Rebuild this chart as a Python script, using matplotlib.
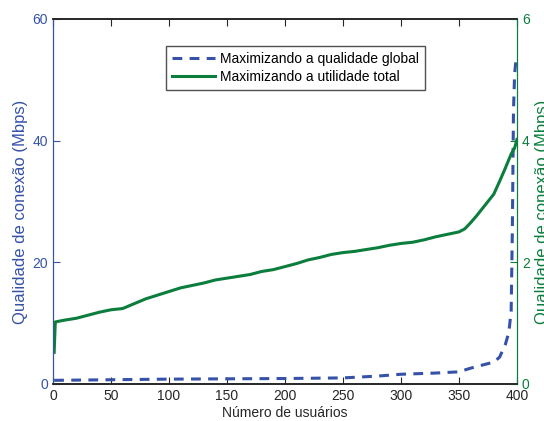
import matplotlib.pyplot as plt

plt.rcParams['font.family'] = ['Liberation Sans', 'DejaVu Sans']

# Sorted per-user connection quality, read at breakpoints along the user index
users_global = [1, 50, 100, 150, 200, 250, 280, 300, 330, 350, 360, 370, 380, 385,
                390, 393, 395, 396, 397, 398, 399, 400]
quality_global = [0.6, 0.7, 0.8, 0.85, 0.9, 1.0, 1.3, 1.6, 1.8, 2.0, 2.6, 3.1, 3.6, 4.4,
                  6.5, 8.5, 12.0, 25.0, 45.0, 51.0, 53.0, 54.0]

users_total = [1, 2, 10, 20, 30, 40, 50, 60, 70, 80, 90, 100, 110, 120, 130, 140, 150,
               160, 170, 180, 190, 200, 210, 220, 230, 240, 250, 260, 270, 280, 290, 300,
               310, 320, 330, 340, 350, 355, 360, 365, 370, 375, 380, 385, 390, 395, 398, 400]
quality_total = [0.52, 1.02, 1.05, 1.08, 1.13, 1.18, 1.22, 1.24, 1.32, 1.40, 1.46, 1.52,
                 1.58, 1.62, 1.66, 1.71, 1.74, 1.77, 1.80, 1.85, 1.88, 1.93, 1.98, 2.04,
                 2.08, 2.13, 2.16, 2.18, 2.21, 2.24, 2.28, 2.31, 2.33, 2.37, 2.42, 2.46,
                 2.50, 2.55, 2.65, 2.76, 2.88, 3.00, 3.12, 3.33, 3.55, 3.78, 3.88, 4.02]

x_ticks = [0, 50, 100, 150, 200, 250, 300, 350, 400]
left_ticks = [0, 20, 40, 60]
right_ticks = [0, 2, 4, 6]

blue = '#3552a8'
green = '#0b7d3c'
dark = '#262626'

fig = plt.figure(figsize=(5.44, 4.21), dpi=100)
ax1 = fig.add_axes([0.0974, 0.0879, 0.8529, 0.867])
ax2 = ax1.twinx()

l1, = ax1.plot(users_global, quality_global, color=blue, lw=2.2, ls='--', dashes=(3.2, 2.4),
               label='Maximizando a qualidade global')
l2, = ax2.plot(users_total, quality_total, color=green, lw=2.2,
               label='Maximizando a utilidade total')

ax1.set_xlim(0, 400)
ax1.set_ylim(0, 60)
ax2.set_ylim(0, 6)
ax1.set_xticks(x_ticks)
ax1.set_yticks(left_ticks)
ax2.set_yticks(right_ticks)

ax1.tick_params(axis='x', direction='in', top=True, length=5, labelsize=10, colors=dark)
ax1.tick_params(axis='y', direction='in', length=5, labelsize=10, colors=blue)
ax2.tick_params(axis='y', direction='in', length=5, labelsize=10, colors=green)

for ax in (ax1, ax2):
    ax.spines['top'].set_color(dark)
    ax.spines['bottom'].set_color(dark)
    ax.spines['top'].set_linewidth(1.2)
    ax.spines['bottom'].set_linewidth(1.2)
    ax.spines['left'].set_color(blue)
    ax.spines['right'].set_color(green)

ax1.set_xlabel('Número de usuários', fontsize=10, color=dark, labelpad=2)
ax1.set_ylabel('Qualidade de conexão (Mbps)', fontsize=12, color=blue)
ax2.set_ylabel('Qualidade de conexão (Mbps)', fontsize=12, color=green, rotation=90)
ax1.yaxis.set_label_coords(-0.054, 0.471)
ax2.yaxis.set_label_coords(1.039, 0.471)

leg = ax2.legend(handles=[l1, l2], loc='center', bbox_to_anchor=(0.523, 0.866),
                 fontsize=10, frameon=True, fancybox=False, handlelength=3.1,
                 borderpad=0.4, labelspacing=0.3, handletextpad=0.4)
leg.get_frame().set_edgecolor(dark)
leg.get_frame().set_linewidth(1.0)

plt.savefig('out.png', dpi=100)
